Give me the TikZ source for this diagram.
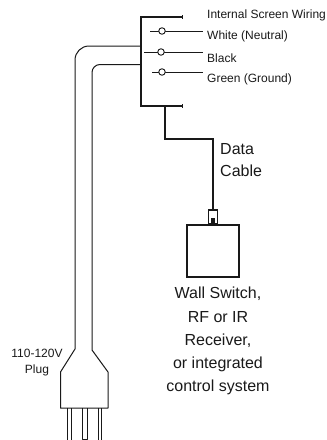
\documentclass[tikz,border=0pt]{standalone}
\usepackage{fontspec}
\setmainfont{Liberation Sans}
\colorlet{ink}{black!90}
\tikzset{
  bus/.style={draw=ink,line width=2.4pt,line cap=butt,line join=miter},
  wire/.style={draw=ink,line width=0.9pt},
  cord/.style={draw=ink,line width=1pt,line join=round},
  terminal/.style={circle,draw=ink,fill=white,line width=0.9pt,inner sep=0pt,minimum size=6.5pt},
  smalllabel/.style={font=\fontsize{12}{12}\selectfont,text=ink,inner sep=0pt,anchor=west},
  biglabel/.style={font=\fontsize{16}{16}\selectfont,text=ink,inner sep=0pt},
  switchbox/.style={rectangle,draw=ink,fill=white,line width=2pt,inner sep=0pt,minimum size=52pt},
}
\begin{document}
\begin{tikzpicture}[x=1pt,y=-1pt]
      \useasboundingbox (0,0) rectangle (327,440);
      % labels on the right
      \foreach \name/\y/\txt in {screen/15/Internal Screen Wiring,white/36/White (Neutral),black/58/Black,green/79/Green (Ground)}
      {
        \node [smalllabel] at (207,\y) (\name label) {\txt};
      }
      % wires with their terminals
      \foreach \name/\xa/\xc/\y in {white/150/162/31,black/144/161/52,green/152/162/72}
      {
        \coordinate (\name start) at (\xa,\y);
        \coordinate (\name end) at (203,\y);
        \draw [wire] (\name start) -- (\name end);
        \node [terminal] at (\xc,\y) (\name term) {};
      }
      % screen bus
      \coordinate (bus top) at (182,17);
      \coordinate (bus corner a) at (141,17);
      \coordinate (bus corner b) at (141,106);
      \coordinate (bus bottom) at (182,106);
      \draw [bus] (bus top) -- (bus corner a) -- (bus corner b) -- (bus bottom);
      \draw [wire] (182,15) -- (182,19);
      \draw [wire] (182,104) -- (182,108);
      % data cable
      \node [switchbox] at (212.5,251) (switch) {};
      \node [rectangle,draw=ink,fill=white,line width=1.6pt,inner sep=0pt,minimum width=9pt,minimum height=14pt] at (213,217) (jack) {};
      \node [rectangle,fill=ink,inner sep=0pt,minimum width=4pt,minimum height=6pt] at (213,221) (pin) {};
      \coordinate (stem top) at (165,106);
      \draw [bus,line width=2pt] (stem top) -- (165,139) -- (213,139) -- (jack.north);
      \node [biglabel,anchor=west] at (220,149) (data) {Data};
      \node [biglabel,anchor=west] at (220,171) (cable) {Cable};
      % text under the switch
      \foreach \name/\y/\txt in {a/294/{Wall Switch,},b/317/RF or IR,c/341/{Receiver,},d/364/or integrated,e/387/control system}
      {
        \node [biglabel] at (218,\y) (switch\name) {\txt};
      }
      % power cord and plug
      \coordinate (outer top) at (141,46);
      \coordinate (inner top) at (141,64.5);
      \draw [cord] [rounded corners=14pt] (outer top) -- (75,46) [rounded corners=0pt] -- (75,349)
        -- (60.5,372) -- (60.5,408) -- (108,408) -- (108,372) -- (92,350) [rounded corners=8pt] -- (92,64.5)
        [rounded corners=0pt] -- (inner top);
      \foreach \xa/\xb in {67/71,98/101.5}
      {
        \draw [cord] (\xa,408) -- (\xa,440);
        \draw [cord] (\xb,408) -- (\xb,440);
      }
      \draw [cord] (82,408) -- (82,439) -- (87.5,439) -- (87.5,408);
      \node [smalllabel,anchor=center] at (37,353) (plug a) {110-120V};
      \node [smalllabel,anchor=center] at (37,370) (plug b) {Plug};
    \end{tikzpicture}
\end{document}
